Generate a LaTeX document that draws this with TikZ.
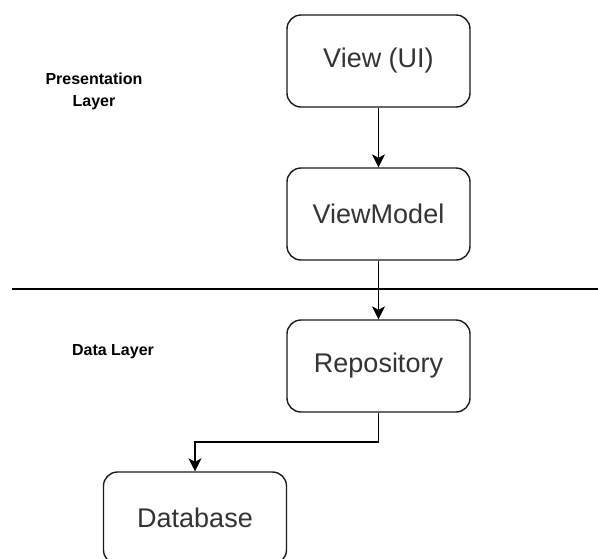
\documentclass[tikz,border=0pt]{standalone}
\usepackage{fontspec}
\setmainfont{Liberation Sans}
\usetikzlibrary{arrows.meta}
\definecolor{edge}{HTML}{1A1A1A}
\definecolor{ink}{HTML}{333333}
\tikzset{
  block/.style={draw=edge, line width=1.4pt, rounded corners=14pt, fill=white,
    minimum width=183pt, minimum height=92pt, inner sep=0pt,
    text=ink, font=\fontsize{27}{32}\selectfont},
  layerlabel/.style={font=\bfseries\fontsize{16}{22}\selectfont, align=center, text=black},
  flow/.style={draw=black, line width=1.4pt,
    -{Stealth[length=13pt, width=13pt, inset=3.5pt]}},
  divider/.style={draw=black, line width=1.4pt}
}
\begin{document}
\begin{tikzpicture}[x=1pt, y=-1pt]
  \useasboundingbox (0,0) rectangle (598,558);
  \clip (0,0) rectangle (598,558);

  % boxes of the stack
  \node[block] (view) at (378.5,61) {View (UI)};
  \node[block] (vm)   at (378.5,214) {ViewModel};
  \node[block] (repo) at (378.5,366) {Repository};
  \node[block] (db)   at (195,518) {Database};

  % divider between the two layers
  \coordinate (divL) at (12,289);
  \coordinate (divR) at (598,289);
  \draw[divider] (divL) -- (divR);

  % layer captions
  \node[layerlabel] (pres) at (94,91) {Presentation\\Layer};
  \node[layerlabel] (data) at (113,352) {Data Layer};

  % flow of data
  \coordinate (bend) at (195,442);
  \draw[flow] (view) -- (vm);
  \draw[flow] (vm) -- (repo);
  \draw[flow] (repo.south) |- (bend) -- (db.north);
\end{tikzpicture}
\end{document}
